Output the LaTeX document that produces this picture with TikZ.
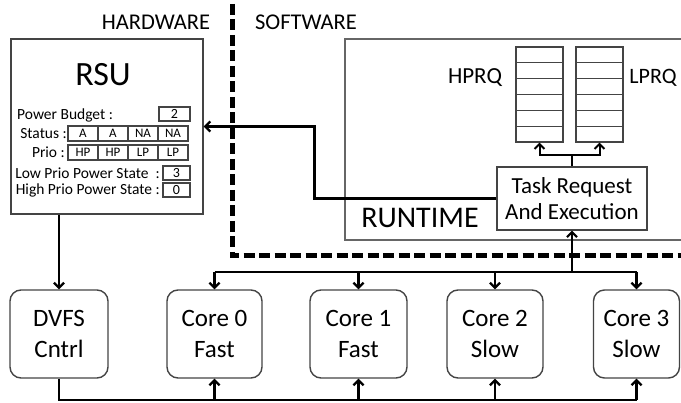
\documentclass[tikz,border=0pt]{standalone}
\usepackage{fontspec}
\setmainfont{Carlito}
\usetikzlibrary{arrows.meta,calc}
\definecolor{boxgray}{HTML}{444444}
\definecolor{rtgray}{HTML}{666666}
\begin{document}
\begin{tikzpicture}[x=1pt,y=-1pt,
  rect/.style={draw=boxgray,line width=1.2pt,inner sep=0pt},
  cell/.style={rect,minimum width=30pt,minimum height=15pt,font=\fontsize{13}{13}\selectfont},
  valbox/.style={rect,minimum height=14pt,font=\fontsize{14}{14}\selectfont},
  lbl/.style={inner sep=0pt,font=\fontsize{15.5}{15.5}\selectfont},
  qrow/.style={draw=boxgray,line width=1.1pt,inner sep=0pt,minimum width=47pt,minimum height=15.83pt},
  core/.style={draw=boxgray,line width=1.4pt,rounded corners=11pt,minimum height=88pt,
    align=center,font=\fontsize{25}{31}\selectfont,inner sep=0pt},
  conn/.style={line width=2.2pt,black},
  tip/.style={-{Straight Barb[length=5pt,width=10pt]}},
  head/.style={inner sep=0pt,font=\fontsize{22.5}{22.5}\selectfont}]
\useasboundingbox (0,0) rectangle (681,403);
\clip (0,0) rectangle (681,403);
\fill[white] (0,0) rectangle (681,403);

% section headings
\node[head] (hw) at (156,22) {HARDWARE};
\node[head] (sw) at (306,22) {SOFTWARE};

% dashed divider
\coordinate (dtop) at (232,4);
\coordinate (dcorner) at (232,256);
\coordinate (dend) at (685,256);
\draw[line width=5pt,dash pattern=on 11pt off 4.5pt] (dtop) -- (dcorner) -- (dend);

% RSU
\node[rect,line width=1.4pt,minimum width=192pt,minimum height=175pt] (rsu) at (107,126.5) {};
\node[inner sep=0pt,font=\fontsize{34}{34}\selectfont] (rsut) at (103,75) {RSU};
\node[lbl,anchor=west] (pbl) at (17,115) {Power Budget :};
\node[valbox,minimum width=31pt] (pbv) at (174.5,114) {2};
\node[lbl,anchor=east] (stl) at (67,133.5) {Status :};
\node[cell] (s1) at (83,133.5) {A};
\node[cell] (s2) at (113,133.5) {A};
\node[cell] (s3) at (143,133.5) {NA};
\node[cell] (s4) at (173,133.5) {NA};
\node[lbl,anchor=east] (prl) at (65,152.5) {Prio :};
\node[cell] (p1) at (83,152.5) {HP};
\node[cell] (p2) at (113,152.5) {HP};
\node[cell] (p3) at (143,152.5) {LP};
\node[cell] (p4) at (173,152.5) {LP};
\node[lbl,anchor=east] (lpl) at (160,173) {Low Prio Power State\ \ :};
\node[valbox,minimum width=27pt] (lpv) at (176.5,173) {3};
\node[lbl,anchor=east] (hpl) at (160,190) {High Prio Power State :};
\node[valbox,minimum width=27pt] (hpv) at (176.5,190) {0};

% Runtime
\node[draw=rtgray,line width=1.5pt,minimum width=355pt,minimum height=201pt,inner sep=0pt] (rt) at (522.5,139.5) {};
\node[inner sep=0pt,font=\fontsize{30}{30}\selectfont] (rtt) at (420,218) {RUNTIME};
\node[rect,minimum width=150pt,minimum height=63pt,align=center,font=\fontsize{23}{26}\selectfont] (task) at (572,198.5) {Task Request\\And Execution};

% queues
\foreach \i in {0,...,5}{
  \node[qrow] (hq\i) at (539.5,{54.9+15.83*\i}) {};
  \node[qrow] (lq\i) at (599.5,{54.9+15.83*\i}) {};
}
\node[inner sep=0pt,font=\fontsize{23}{23}\selectfont] (hprq) at (475,78) {HPRQ};
\node[inner sep=0pt,font=\fontsize{22}{22}\selectfont] (lprq) at (653,78) {LPRQ};

\coordinate (qsplit) at (572,155);
\draw[conn,line width=2pt] (task.north) -- (qsplit);
\draw[conn,line width=2pt,tip] (qsplit) -| (hq5.south);
\draw[conn,line width=2pt,tip] (qsplit) -| (lq5.south);

% runtime -> RSU
\draw[conn,tip] (task.west) -- ++(-182,0) |- (rsu.east);

% bottom row
\node[core,minimum width=98pt] (dvfs) at (59,334) {DVFS\\Cntrl};
\node[core,minimum width=95pt] (c0) at (214.5,334) {Core 0\\Fast};
\node[core,minimum width=97pt] (c1) at (358.5,334) {Core 1\\Fast};
\node[core,minimum width=96pt] (c2) at (495,334) {Core 2\\Slow};
\node[core,minimum width=86pt] (c3) at (636.5,334) {Core 3\\Slow};

\draw[conn,tip] (rsu.south -| dvfs.north) -- (dvfs.north);

% top bus
\coordinate (bus) at (572,272);
\draw[conn,tip] (bus) -- (task.south);
\draw[conn] (c0.north |- bus) -- (c3.north |- bus);
\foreach \c in {c0,c1,c2,c3}{
  \draw[conn,tip] (\c.north |- bus) -- (\c.north);
}

% bottom bus
\coordinate (bb) at (0,400);
\draw[conn,line width=2.8pt] (dvfs.south) -- (dvfs.south |- bb) -- (c3.south |- bb);
\foreach \c in {c0,c1,c2,c3}{
  \draw[conn,tip] (\c.south |- bb) -- (\c.south);
}
\end{tikzpicture}
\end{document}
